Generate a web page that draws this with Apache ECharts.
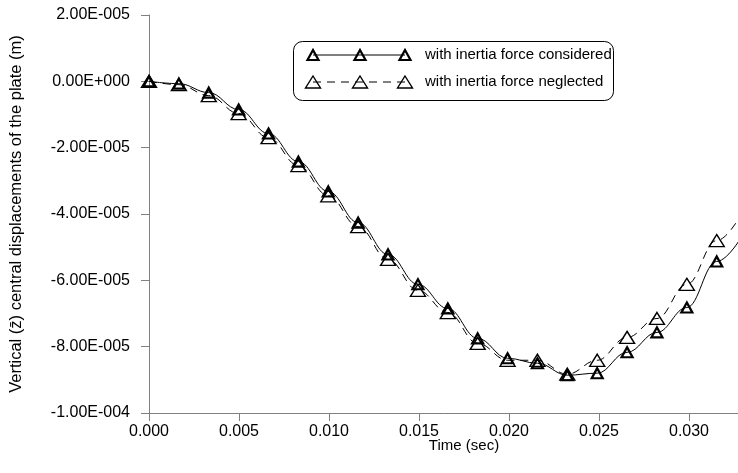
<!DOCTYPE html>
<html>
<head>
<meta charset="utf-8">
<script src="https://cdn.jsdelivr.net/npm/echarts@6/dist/echarts.min.js"></script>
<style>
html,body{margin:0;padding:0;background:#fff;}
#chart{width:738px;height:473px;}
</style>
</head>
<body>
<div id="chart"></div>
<script>
// Time (sec) for each sample point
var times = [0, 0.00166, 0.00332, 0.00498, 0.00664, 0.0083, 0.00996, 0.01162, 0.01328, 0.01494,
             0.0166, 0.01826, 0.01992, 0.02158, 0.02324, 0.0249, 0.02656, 0.02822, 0.02988, 0.03154, 0.0332];
// Vertical central displacement (m), inertia force considered
var considered = [0, -0.07e-5, -0.34e-5, -0.85e-5, -1.575e-5, -2.42e-5, -3.32e-5, -4.26e-5, -5.22e-5, -6.12e-5,
                  -6.85e-5, -7.75e-5, -8.35e-5, -8.50e-5, -8.86e-5, -8.80e-5, -8.17e-5, -7.57e-5, -6.82e-5, -5.43e-5, -4.44e-5];
// Vertical central displacement (m), inertia force neglected
var neglected = [0, -0.10e-5, -0.43e-5, -0.97e-5, -1.70e-5, -2.54e-5, -3.45e-5, -4.38e-5, -5.37e-5, -6.30e-5,
                 -6.97e-5, -7.90e-5, -8.41e-5, -8.41e-5, -8.83e-5, -8.41e-5, -7.72e-5, -7.15e-5, -6.12e-5, -4.80e-5, -3.72e-5];
var seriesNames = ['with inertia force considered', 'with inertia force neglected'];
var xTitle = 'Time (sec)';
var yTitle = 'Vertical (z\u0304) central displacements of the plate (m)';

var FONT = 'Liberation Sans, Arial, sans-serif';

function sciFmt(v) {
  if (Math.abs(v) < 1e-12) return '0.00E+000';
  var s = v.toExponential(2).split('e');
  var e = parseInt(s[1], 10);
  return s[0] + 'E' + (e < 0 ? '-' : '+') + String(Math.abs(e)).padStart(3, '0');
}

function buildData(vals) {
  return times.map(function (t, i) {
    if (i === times.length - 1) return { value: [t, vals[i]], symbol: 'none' };
    return [t, vals[i]];
  });
}

function tri(cx, cy, w, h, lw) {
  return {
    type: 'polygon',
    shape: { points: [[cx, cy - h / 2], [cx + w / 2, cy + h / 2], [cx - w / 2, cy + h / 2]] },
    style: { fill: 'transparent', stroke: '#000', lineWidth: lw }
  };
}

var legendX = [313, 360, 405];
var row1 = 55, row2 = 82;
var legendChildren = [
  { type: 'rect', shape: { x: 293.5, y: 41.5, width: 320, height: 59, r: 9 }, style: { fill: '#fff', stroke: '#000', lineWidth: 1 } },
  { type: 'line', shape: { x1: legendX[0], y1: row1, x2: legendX[2], y2: row1 }, style: { stroke: '#000', lineWidth: 1 } },
  { type: 'line', shape: { x1: legendX[0], y1: row2, x2: legendX[2], y2: row2 }, style: { stroke: '#000', lineWidth: 1, lineDash: [8, 6] } },
  { type: 'text', style: { x: 425, y: row1, text: seriesNames[0], font: '15px ' + FONT, fill: '#000', verticalAlign: 'middle' } },
  { type: 'text', style: { x: 425, y: row2, text: seriesNames[1], font: '15px ' + FONT, fill: '#000', verticalAlign: 'middle' } }
];
legendX.forEach(function (x) {
  legendChildren.push(tri(x, row1, 11, 10, 2.2));
  legendChildren.push(tri(x, row2, 15, 12, 1.4));
});

var chart = echarts.init(document.getElementById('chart'), null, { renderer: 'canvas' });
chart.setOption({
  backgroundColor: '#fff',
  animation: false,
  grid: { left: 149, top: 15, right: -41, bottom: 60, containLabel: false, outerBoundsMode: 'none' },
  xAxis: {
    type: 'value', min: 0, max: 0.035, interval: 0.005,
    name: xTitle, nameLocation: 'middle', nameGap: 25, nameMoveOverlap: false,
    nameTextStyle: { fontFamily: FONT, fontSize: 15, color: '#000' },
    axisLine: { onZero: false, lineStyle: { color: '#808080', width: 1 } },
    axisTick: { show: true, length: 8, lineStyle: { color: '#808080' } },
    axisLabel: { margin: 11, fontFamily: FONT, fontSize: 16, color: '#000', formatter: function (v) { return v.toFixed(3); } },
    splitLine: { show: false }
  },
  yAxis: {
    type: 'value', min: -1e-4, max: 2e-5, interval: 2e-5,
    name: yTitle, nameLocation: 'middle', nameGap: 124, nameRotate: 90, nameMoveOverlap: false,
    nameTextStyle: { fontFamily: FONT, fontSize: 16.5, color: '#000' },
    axisLine: { show: true, onZero: false, lineStyle: { color: '#808080', width: 1 } },
    axisTick: { show: true, length: 8, lineStyle: { color: '#808080' } },
    axisLabel: { margin: 19, fontFamily: FONT, fontSize: 16, color: '#000', formatter: sciFmt },
    splitLine: { show: false }
  },
  series: [
    {
      name: seriesNames[1], type: 'line', data: buildData(neglected),
      smooth: 0.4, smoothMonotone: 'x', clip: true,
      symbol: 'triangle', symbolSize: [15, 12], showAllSymbol: true,
      lineStyle: { color: '#000', width: 1, type: [8, 6] },
      itemStyle: { color: 'transparent', borderColor: '#000', borderWidth: 1.4 },
      z: 2
    },
    {
      name: seriesNames[0], type: 'line', data: buildData(considered),
      smooth: 0.4, smoothMonotone: 'x', clip: true,
      symbol: 'triangle', symbolSize: [11, 10], showAllSymbol: true,
      lineStyle: { color: '#000', width: 1 },
      itemStyle: { color: 'transparent', borderColor: '#000', borderWidth: 2.2 },
      z: 3
    }
  ],
  graphic: [{ type: 'group', z: 100, children: legendChildren }]
});
</script>
</body>
</html>
